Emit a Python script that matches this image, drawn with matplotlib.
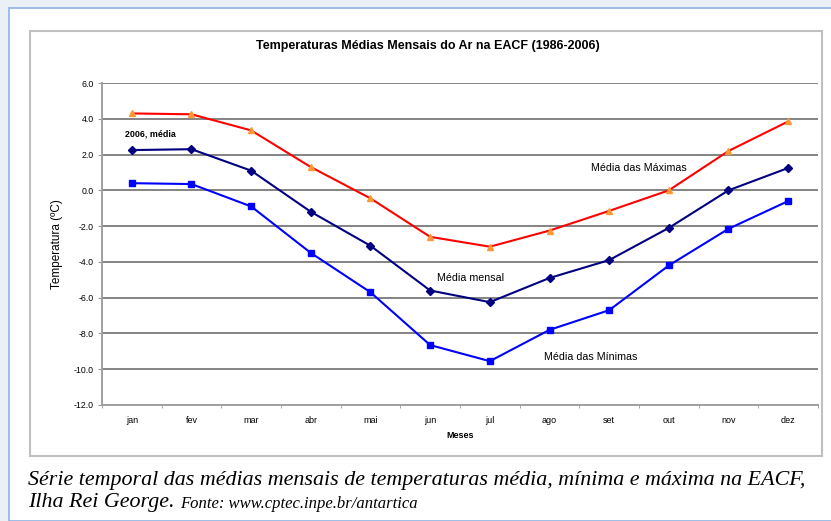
import matplotlib.pyplot as plt
import matplotlib.patches as patches
import numpy as np

# Data
months = ["jan", "fev", "mar", "abr", "mai", "jun", "jul", "ago", "set", "out", "nov", "dez"]
media_maximas = [4.3, 4.25, 3.35, 1.3, -0.45, -2.6, -3.15, -2.25, -1.15, 0.0, 2.2, 3.85]
media_mensal = [2.25, 2.3, 1.1, -1.2, -3.1, -5.6, -6.25, -4.9, -3.9, -2.1, 0.0, 1.25]
media_minimas = [0.4, 0.35, -0.9, -3.5, -5.7, -8.65, -9.55, -7.8, -6.7, -4.2, -2.15, -0.6]
y_ticks = [-12, -10, -8, -6, -4, -2, 0, 2, 4, 6]

W, H = 831, 521
fig = plt.figure(figsize=(W / 100, H / 100), dpi=100)
fig.patch.set_facecolor("#eaf0f6")

# white page with blue border
fig.add_artist(patches.Rectangle((9 / W, 0), 1, 1 - 8 / H, transform=fig.transFigure,
                                 facecolor="white", edgecolor="#8db3e2", lw=1.2, zorder=-10))
# chart frame
fig.add_artist(patches.Rectangle((30 / W, 1 - 456 / H), (822 - 30) / W, (456 - 31) / H,
                                 transform=fig.transFigure, facecolor="white",
                                 edgecolor="#c0c0c0", lw=1.5, zorder=-9))

ax = fig.add_axes([102 / W, 1 - 405 / H, (818 - 102) / W, (405 - 83) / H])
ax.set_facecolor("white")
x = np.arange(len(months))

ax.plot(x, media_maximas, color="#ff0000", lw=1.5, marker="^", ms=4,
        mfc="#ff9933", mec="#ff9933", zorder=3)
ax.plot(x, media_mensal, color="#000080", lw=1.5, marker="D", ms=4.5,
        mfc="#000080", mec="#000080", zorder=3)
ax.plot(x, media_minimas, color="#0000ff", lw=1.5, marker="s", ms=4.5,
        mfc="#0000ff", mec="#0000ff", zorder=3)

ax.set_xlim(-0.5, len(months) - 0.5)
ax.set_ylim(-12, 6)
ax.set_yticks(y_ticks)
ax.set_yticklabels([f"{v:.1f}" for v in y_ticks], fontsize=6.3, family="Liberation Sans")
ax.set_xticks(x)
ax.set_xticklabels(months, fontsize=6.5, family="Liberation Sans")
ax.set_xticks(np.arange(-0.5, len(months)), minor=True)
ax.tick_params(axis="x", which="major", length=0, pad=8)
ax.tick_params(axis="x", which="minor", length=2.5, color="#999999", direction="out")
ax.tick_params(axis="y", length=3, color="#999999", pad=3)

ax.yaxis.grid(True, color="#7a7a7a", lw=1.3)
ax.set_axisbelow(True)
for s in ["top", "right"]:
    ax.spines[s].set_visible(False)
for s in ["left", "bottom"]:
    ax.spines[s].set_color("#a0a0a0")
    ax.spines[s].set_linewidth(1.4)

ax.set_ylabel("Temperatura (ºC)", fontsize=8.5, family="Liberation Sans", labelpad=8)
ax.set_xlabel("Meses", fontsize=6.5, family="Liberation Sans", fontweight="bold", labelpad=4)

fig.text(428 / W, 1 - 46 / H, "Temperaturas Médias Mensais do Ar na EACF (1986-2006)",
         ha="center", va="center", fontsize=9, fontweight="bold", family="Liberation Sans")

# series labels
ax.text(-0.12, 3.15, "2006, média", fontsize=6.4, fontweight="bold",
        family="Liberation Sans", va="center")
ax.text(7.69, 1.25, "Média das Máximas", fontsize=7.7, family="Liberation Sans", va="center")
ax.text(5.12, -4.9, "Média mensal", fontsize=7.7, family="Liberation Sans", va="center")
ax.text(6.91, -9.3, "Média das Mínimas", fontsize=7.7, family="Liberation Sans", va="center")

# caption
fig.text(28 / W, 1 - 485 / H,
         "Série temporal das médias mensais de temperaturas média, mínima e máxima na EACF,",
         fontsize=15.8, style="italic", family="Liberation Serif", va="baseline")
t2 = fig.text(28 / W, 1 - 507 / H, "Ilha Rei George. ",
              fontsize=15.8, style="italic", family="Liberation Serif", va="baseline")
ax.annotate("Fonte: www.cptec.inpe.br/antartica", xy=(1, 0), xycoords=t2,
            xytext=(0, 0), textcoords="offset points", va="bottom", ha="left",
            fontsize=12, style="italic", family="Liberation Serif",
            annotation_clip=False)

fig.savefig("out.png", dpi=100)
